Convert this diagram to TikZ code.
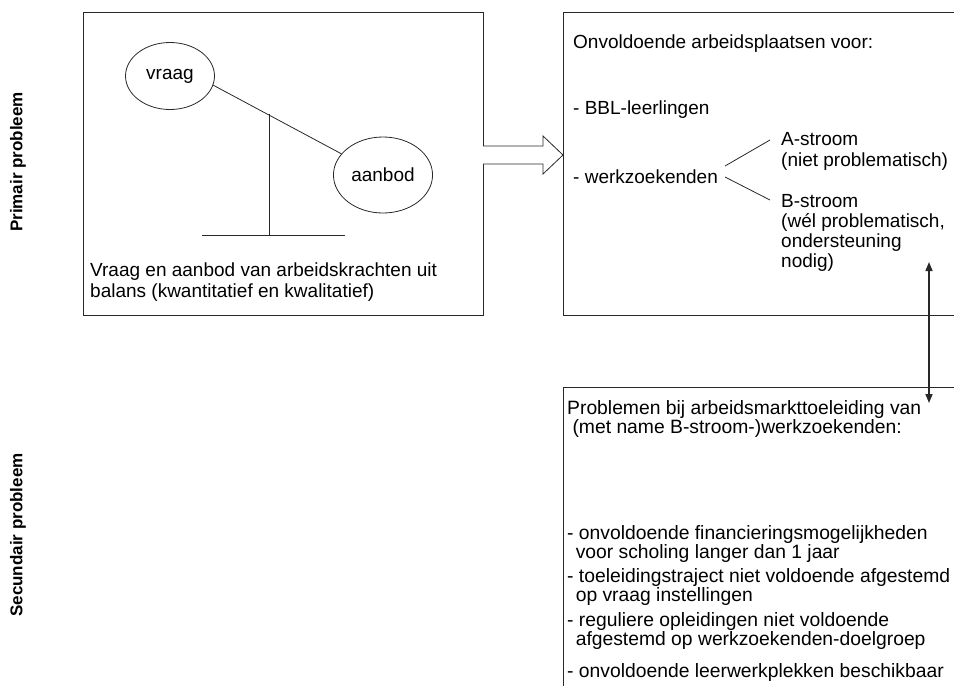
\documentclass[tikz,border=0pt]{standalone}
\usepackage{fontspec}
\setmainfont{Liberation Sans}
\usetikzlibrary{positioning,arrows.meta,shapes.geometric}
\definecolor{lijngrijs}{RGB}{40,40,40}

\begin{document}
\begin{tikzpicture}[x=1pt, y=-1pt,
  kader/.style={draw=lijngrijs, line width=0.9pt},
  bol/.style={ellipse, draw=lijngrijs, line width=0.8pt,
    minimum width=89pt, minimum height=67pt, font=\fontsize{19}{21}\selectfont},
  lijn/.style={draw=lijngrijs, line width=0.8pt},
  tekst/.style={anchor=base west, align=left, inner sep=0pt,
    font=\fontsize{19}{21.5}\selectfont},
  lijst/.style={tekst, font=\fontsize{19.3}{19}\selectfont},
  zijtekst/.style={rotate=90, font=\fontsize{17}{20}\selectfont\bfseries},
]
  \useasboundingbox (0,0) rectangle (954,686);
  \clip (0,0) rectangle (954,686);

  % Kaders
  \node[kader, minimum width=400, minimum height=303] (balans) at (283,163.5) {};
  \node[kader, minimum width=420, minimum height=303] (plaatsen) at (773,163.5) {};
  \node[kader, minimum width=420, minimum height=330] (toeleiding) at (773,552) {};

  % Zijlabels
  \node[zijtekst] (primair) at (18,162) {Primair probleem};
  \node[zijtekst] (secundair) at (18,535) {Secundair probleem};

  % Weegschaal
  \node[bol] (vraag) at (170,76) {vraag};
  \node[bol, minimum width=90pt, minimum height=76pt] (aanbod) at (383,175) {aanbod};
  \draw[lijn] (vraag.-12) -- (aanbod.153);
  \coordinate (steun) at (269,114);
  \coordinate (voet) at (269,235);
  \coordinate (voetl) at (202,235);
  \coordinate (voetr) at (345,235);
  \draw[lijn] (steun) -- (voet);
  \draw[lijn] (voetl) -- (voetr);
  \node[tekst, font=\fontsize{19}{21}\selectfont] (onbalans) at (90,297)
    {Vraag en aanbod van arbeidskrachten uit\\balans (kwantitatief en kwalitatief)};

  % Blokpijl
  \draw[lijn, fill=white] (483,146) -- (543,146) -- (543,136) -- (563,155)
    -- (543,174) -- (543,164) -- (483,164);

  % Primair probleem
  \node[tekst] (kop) at (573,48) {Onvoldoende arbeidsplaatsen voor:};
  \node[tekst] (bbl) at (573,114) {- BBL-leerlingen};
  \node[tekst] (werkz) at (573,183) {- werkzoekenden};
  \node[tekst] (astroom) at (781,166.5) {A-stroom\\(niet problematisch)};
  \node[tekst, font=\fontsize{19}{20}\selectfont] (bstroom) at (781,267)
    {B-stroom\\(wél problematisch,\\ondersteuning\\nodig)};
  \coordinate (splitsa) at (725,166);
  \coordinate (splitsb) at (725,177);
  \coordinate (einda) at (770,140);
  \coordinate (eindb) at (770,200);
  \draw[lijn] (splitsa) -- (einda);
  \draw[lijn] (splitsb) -- (eindb);

  % Verbinding
  \coordinate (pijlboven) at (929,262);
  \coordinate (pijlonder) at (929,403);
  \draw[lijn, line width=1.5pt, {Triangle[length=9pt,width=7pt]}-{Triangle[length=9pt,width=7pt]}]
    (pijlboven) -- (pijlonder);

  % Secundair probleem
  \node[lijst] (probl) at (567,433)
    {Problemen bij arbeidsmarkttoeleiding van\\
    \ (met name B-stroom-)werkzoekenden:};
  \node[lijst] (punt1) at (567,558)
    {- onvoldoende financieringsmogelijkheden\\\ \,voor scholing langer dan 1 jaar};
  \node[lijst] (punt2) at (567,601)
    {- toeleidingstraject niet voldoende afgestemd\\\ \,op vraag instellingen};
  \node[lijst] (punt3) at (567,645)
    {- reguliere opleidingen niet voldoende\\\ \,afgestemd op werkzoekenden-doelgroep};
  \node[lijst] (punt4) at (567,677)
    {- onvoldoende leerwerkplekken beschikbaar};
\end{tikzpicture}
\end{document}
